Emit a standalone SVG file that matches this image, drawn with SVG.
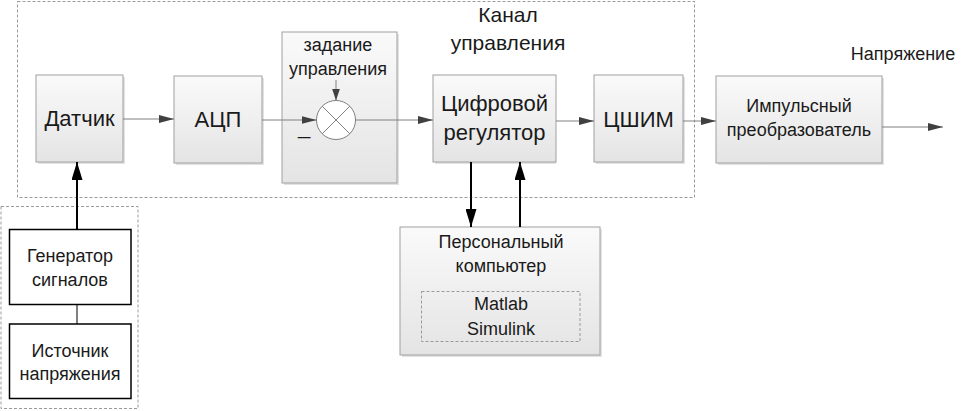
<svg xmlns="http://www.w3.org/2000/svg" width="961" height="411" viewBox="0 0 961 411">
<style>
text{font-family:"Liberation Sans",Arial,sans-serif;fill:#1a1a1a;text-anchor:middle}
.big{font-size:22px}
.sm{font-size:18px}
.box{fill:url(#g);stroke:#a0a0a0;stroke-width:1}
.shadow{fill:#cfcfcf;opacity:0.6}
.wbox{fill:#ffffff;stroke:#000000;stroke-width:1.5}
.dash{fill:none;stroke:#9a9a9a;stroke-width:1;stroke-dasharray:3,2}
.gc{fill:none;stroke:#808080;stroke-width:1}
.bc{fill:none;stroke:#000000;stroke-width:2}
.bc1{fill:none;stroke:#000000;stroke-width:1}
</style>
<defs>
<linearGradient id="g" x1="0" y1="0" x2="0" y2="1">
<stop offset="0" stop-color="#fafafa"/>
<stop offset="1" stop-color="#e4e4e4"/>
</linearGradient>
<marker id="ga" markerUnits="userSpaceOnUse" markerWidth="15" markerHeight="8" refX="15" refY="4" orient="auto">
<path d="M0,0 L15,4 L0,8 z" fill="#404040"/>
</marker>
<marker id="gs" markerUnits="userSpaceOnUse" markerWidth="12" markerHeight="8" refX="12" refY="4" orient="auto">
<path d="M0,0 L12,4 L0,8 z" fill="#404040"/>
</marker>
<marker id="ba" markerUnits="userSpaceOnUse" markerWidth="18" markerHeight="11" refX="18" refY="5.5" orient="auto">
<path d="M0,0 L18,5.5 L0,11 z" fill="#000000"/>
</marker>
</defs>

<g id="channel">
<rect class="dash" x="17.5" y="1.5" width="677" height="196"/>
<text class="big" x="508" y="22" style="font-size:21px">Канал</text>
<text class="big" x="508" y="50" style="font-size:21px">управления</text>
</g>

<g id="source-group">
<rect class="dash" x="1" y="206.5" width="137" height="202"/>
</g>

<g id="sensor">
<rect class="shadow" x="38" y="77" width="87" height="87"/>
<rect class="box" x="36" y="75" width="87" height="87"/>
<text class="big" x="79.5" y="126">Датчик</text>
</g>

<g id="adc">
<rect class="shadow" x="176" y="78" width="88" height="87"/>
<rect class="box" x="174" y="76" width="88" height="87"/>
<text class="big" x="218" y="127">АЦП</text>
</g>

<g id="summator">
<rect class="shadow" x="284" y="34" width="115" height="151"/>
<rect class="box" x="282" y="32" width="115" height="151"/>
<text class="sm" x="338" y="51">задание</text>
<text class="sm" x="338" y="75">управления</text>
<circle cx="336" cy="120" r="19.5" fill="#ffffff" stroke="#808080" stroke-width="1"/>
<path d="M322.2,106.2 L349.8,133.8 M349.8,106.2 L322.2,133.8" stroke="#808080" stroke-width="1" fill="none"/>
<text class="big" x="304" y="134">_</text>
</g>

<g id="regulator">
<rect class="shadow" x="435" y="77" width="121" height="87"/>
<rect class="box" x="433" y="75" width="123" height="87"/>
<text class="big" x="494.5" y="111">Цифровой</text>
<text class="big" x="494.5" y="140">регулятор</text>
</g>

<g id="pwm">
<rect class="shadow" x="596" y="77" width="89" height="87"/>
<rect class="box" x="594" y="75" width="89" height="87"/>
<text class="big" x="638.5" y="127">ЦШИМ</text>
</g>

<g id="converter">
<rect class="shadow" x="718" y="78" width="166" height="87"/>
<rect class="box" x="716" y="76" width="166" height="87"/>
<text class="sm" x="799" y="112">Импульсный</text>
<text class="sm" x="799" y="136">преобразователь</text>
</g>

<g id="voltage-label">
<text class="sm" x="903" y="60">Напряжение</text>
</g>

<g id="pc">
<rect class="shadow" x="402" y="229" width="200" height="128"/>
<rect class="box" x="400" y="227" width="200" height="128"/>
<text class="sm" x="501" y="248">Персональный</text>
<text class="sm" x="501" y="272">компьютер</text>
<rect class="dash" x="421.5" y="291.5" width="158.5" height="50"/>
<text class="sm" x="501" y="310">Matlab</text>
<text class="sm" x="501" y="335">Simulink</text>
</g>

<g id="generator">
<rect class="wbox" x="9.5" y="229.5" width="121.5" height="75"/>
<text class="sm" x="70" y="262">Генератор</text>
<text class="sm" x="70" y="286">сигналов</text>
</g>

<g id="supply">
<rect class="wbox" x="9.5" y="324" width="121.5" height="74.5"/>
<text class="sm" x="70" y="357">Источник</text>
<text class="sm" x="70" y="380">напряжения</text>
</g>

<g id="connectors">
<path class="gc" d="M123,119 H174" marker-end="url(#ga)"/>
<path class="gc" d="M262,120 H316.5" marker-end="url(#ga)"/>
<path class="gc" d="M355.5,120 H433" marker-end="url(#ga)"/>
<path class="gc" d="M556,121 H594" marker-end="url(#ga)"/>
<path class="gc" d="M683,121 H716" marker-end="url(#ga)"/>
<path class="gc" d="M882,127 H943" marker-end="url(#ga)"/>
<path class="gc" d="M336,80 V100.5" marker-end="url(#gs)"/>
<path class="bc" d="M77,229 V162" marker-end="url(#ba)"/>
<path class="bc1" d="M77,305 V324"/>
<path class="bc" d="M471,162 V227" marker-end="url(#ba)"/>
<path class="bc" d="M520,227 V162" marker-end="url(#ba)"/>
</g>
</svg>
